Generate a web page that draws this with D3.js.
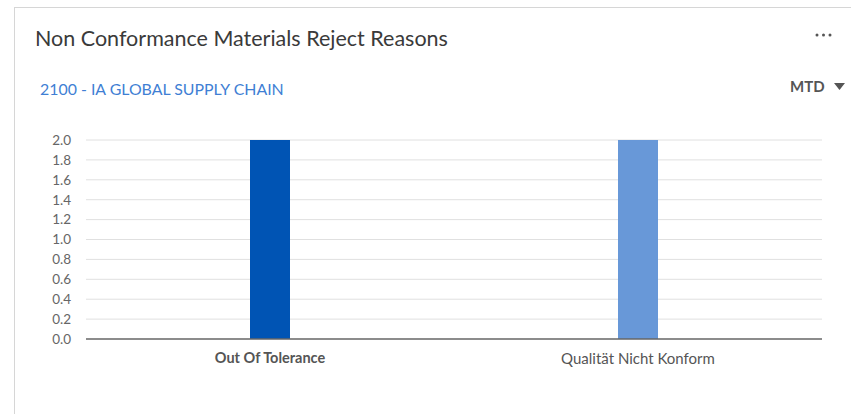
<!DOCTYPE html>
<html>
<head>
<meta charset="utf-8">
<script src="https://cdn.jsdelivr.net/npm/d3@7"></script>
<style>
  html, body { margin: 0; padding: 0; background: #fff; }
  svg { display: block; }
</style>
</head>
<body>
<svg id="chart" width="851" height="414"></svg>
<script>
const title = "Non Conformance Materials Reject Reasons";
const subtitle = "2100 - IA GLOBAL SUPPLY CHAIN";
const periodLabel = "MTD";
const categories = ["Out Of Tolerance", "Qualität Nicht Konform"];
const values = [2, 2];
const barColors = ["#0054b4", "#6898d8"];
const yTicks = [0, 0.2, 0.4, 0.6, 0.8, 1.0, 1.2, 1.4, 1.6, 1.8, 2.0];

const svg = d3.select("#chart");
const font = "Lato, 'Open Sans', sans-serif";

// card
svg.append("rect").attr("x", 14.5).attr("y", 7.5).attr("width", 860).attr("height", 420)
  .attr("fill", "#fff").attr("stroke", "#d6d6d6").attr("stroke-width", 1);

svg.append("text").attr("x", 35).attr("y", 46).text(title)
  .attr("font-family", font).attr("font-size", 21.5).attr("fill", "#3a3a3a");

svg.append("text").attr("x", 40).attr("y", 95).text(subtitle)
  .attr("font-family", font).attr("font-size", 15.9).attr("fill", "#3f7fd4");

// ellipsis
svg.selectAll("circle.dot").data([0, 1, 2]).enter().append("circle")
  .attr("cx", d => 817 + d * 6.5).attr("cy", 35).attr("r", 1.5).attr("fill", "#555");

svg.append("text").attr("x", 790).attr("y", 92).text(periodLabel)
  .attr("font-family", font).attr("font-size", 15).attr("font-weight", 700).attr("fill", "#555");
svg.append("path").attr("d", "M 834 83 L 845 83 L 839.5 90 Z").attr("fill", "#555");

const x = d3.scaleBand().domain(categories).range([86, 822]).padding(0);
const y = d3.scaleLinear().domain([0, 2]).range([339, 140]);

// gridlines
svg.append("g").selectAll("line").data(yTicks.filter(d => d > 0)).enter().append("line")
  .attr("x1", 86).attr("x2", 822)
  .attr("y1", d => y(d)).attr("y2", d => y(d))
  .attr("stroke", "#e0e0e0").attr("stroke-width", 1);

// y axis labels
const yAxis = d3.axisLeft(y).tickValues(yTicks).tickFormat(d3.format(".1f")).tickSize(0).tickPadding(15);
const gy = svg.append("g").attr("transform", "translate(86,0)").call(yAxis);
gy.select(".domain").remove();
gy.selectAll("text").attr("font-family", font).attr("font-size", 13.5).attr("fill", "#666");

// bars
const barW = 40;
svg.append("g").selectAll("rect").data(categories).enter().append("rect")
  .attr("x", d => x(d) + x.bandwidth() / 2 - barW / 2)
  .attr("y", (d, i) => y(values[i]))
  .attr("width", barW)
  .attr("height", (d, i) => y(0) - y(values[i]))
  .attr("fill", (d, i) => barColors[i]);

// x axis
const xAxis = d3.axisBottom(x).tickSize(0).tickPadding(14);
const gx = svg.append("g").attr("transform", "translate(0,339)").call(xAxis);
gx.select(".domain").attr("stroke", "#666").attr("stroke-width", 1.3).attr("d", "M86,0H822");
gx.selectAll("text").attr("font-family", font).attr("fill", "#555")
  .attr("font-size", (d, i) => i === 0 ? 14.5 : 15)
  .attr("font-weight", (d, i) => i === 0 ? 700 : 400);
</script>
</body>
</html>
